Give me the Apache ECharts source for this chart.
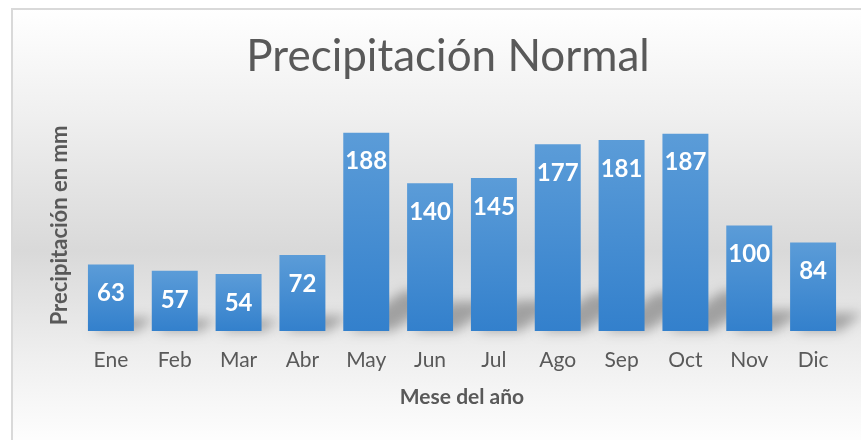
<!DOCTYPE html>
<html>
<head>
<meta charset="utf-8">
<script src="https://cdn.jsdelivr.net/npm/echarts@6/dist/echarts.min.js"></script>
<style>
    html, body { margin: 0; padding: 0; background: #fff; }
    #main { width: 861px; height: 440px; }
</style>
</head>
<body>
<div id="main"></div>
<script>
    // datos de la grafica
    var meses = ['Ene', 'Feb', 'Mar', 'Abr', 'May', 'Jun', 'Jul', 'Ago', 'Sep', 'Oct', 'Nov', 'Dic'];
    var precipitacion = [63, 57, 54, 72, 188, 140, 145, 177, 181, 187, 100, 84];

    var chart = echarts.init(document.getElementById('main'));
    var fuente = 'Lato';
    var LEJOS = 3000; // la sombra se dibuja fuera y se desplaza, asi solo se ve el difuminado

    var option = {
        backgroundColor: '#ffffff',
        animation: false,
        graphic: [
            {
                type: 'rect',
                z: -10,
                silent: true,
                shape: { x: 12, y: 9, width: 860, height: 440 },
                style: {
                    fill: {
                        type: 'linear', x: 0, y: 0, x2: 0, y2: 1,
                        colorStops: [
                            { offset: 0, color: '#ffffff' },
                            { offset: 0.25, color: '#efefef' },
                            { offset: 0.55, color: '#d9d9d9' },
                            { offset: 0.8, color: '#f0f0f0' },
                            { offset: 1, color: '#ffffff' }
                        ]
                    },
                    stroke: '#d9d9d9',
                    lineWidth: 2
                }
            }
        ],
        title: {
            text: 'Precipitación Normal',
            left: 443,
            textAlign: 'center',
            top: 30,
            textStyle: {
                fontFamily: fuente,
                fontWeight: 'normal',
                fontSize: 44,
                color: '#595959'
            }
        },
        grid: {
            left: 79,
            right: 16,
            top: 120,
            bottom: 109
        },
        xAxis: {
            type: 'category',
            data: meses,
            name: 'Mese del año',
            nameLocation: 'middle',
            nameGap: 56,
            nameTextStyle: {
                fontFamily: fuente,
                fontWeight: 'bold',
                fontSize: 21,
                color: '#595959'
            },
            axisLine: { show: false },
            axisTick: { show: false },
            axisLabel: {
                margin: 19,
                fontFamily: fuente,
                fontSize: 21,
                color: '#595959'
            }
        },
        yAxis: {
            type: 'value',
            min: 0,
            max: 200,
            interval: 20,
            name: 'Precipitación en mm',
            nameLocation: 'middle',
            nameGap: 8,
            nameTextStyle: {
                fontFamily: fuente,
                fontWeight: 'bold',
                fontSize: 22,
                color: '#595959'
            },
            axisLine: { show: false },
            axisTick: { show: false },
            axisLabel: { show: false },
            splitLine: { show: false }
        },
        series: [
            {
                // sombra en perspectiva detras de cada barra
                type: 'custom',
                silent: true,
                z: 1,
                data: precipitacion,
                renderItem: function (params, api) {
                    var base = api.coord([api.value(0), 0]);
                    var top = api.coord([api.value(0), api.value(1)]);
                    var w = api.size([1, 0])[0] * 0.72;
                    var h = base[1] - top[1];
                    var x0 = base[0] - w / 2 - LEJOS, x1 = base[0] + w / 2 - LEJOS;
                    var dx = h * 0.3, dy = h * 0.2;
                    return {
                        type: 'polygon',
                        shape: {
                            points: [
                                [x0 + 4, base[1]], [x1 + 4, base[1]],
                                [x1 + dx, base[1] - dy], [x0 + dx, base[1] - dy]
                            ]
                        },
                        style: {
                            fill: '#000',
                            shadowBlur: 12,
                            shadowOffsetX: LEJOS,
                            shadowColor: 'rgba(0,0,0,0.3)'
                        }
                    };
                }
            },
            {
                type: 'bar',
                z: 2,
                data: precipitacion,
                barCategoryGap: '28%',
                itemStyle: {
                    color: {
                        type: 'linear', x: 0, y: 0, x2: 0, y2: 1,
                        colorStops: [
                            { offset: 0, color: '#5b9cd8' },
                            { offset: 1, color: '#3380cc' }
                        ]
                    }
                },
                label: {
                    show: true,
                    position: 'insideTop',
                    distance: 17,
                    fontFamily: fuente,
                    fontWeight: 'bold',
                    fontSize: 24,
                    color: '#ffffff'
                }
            }
        ]
    };

    chart.setOption(option);
</script>
</body>
</html>
